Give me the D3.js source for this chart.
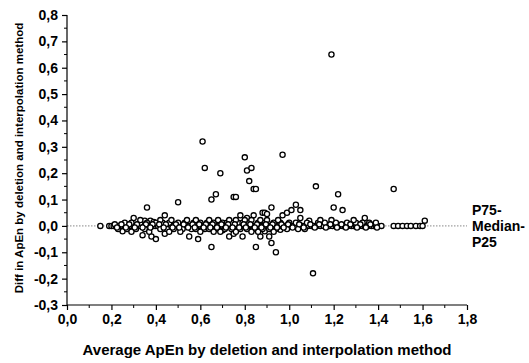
<!DOCTYPE html>
<html><head><meta charset="utf-8">
<script src="https://cdn.jsdelivr.net/npm/d3@7"></script>
<style>body{margin:0;background:#fff}svg{display:block}text{font-family:"Liberation Sans",Arial,sans-serif;font-weight:bold;fill:#000}</style>
</head><body>
<script>
// Outlying / scattered points (average, diff)
const scatterAvg  = [0.15,1.19,0.61,0.62,0.69,0.80,0.81,0.83,0.82,0.84,0.85,0.97,1.12,1.22,1.47,0.50,0.36,0.65,0.67,0.75,0.76,1.20,1.24,0.97,0.99,1.01,1.03,1.05,0.92,0.88,0.89,0.90,0.78,0.81,0.84,0.44,0.30,0.35,0.375,0.39,1.05,1.09,1.34,1.61,1.107,0.25,0.34,0.38,0.40,0.44,0.55,0.59,0.65,0.73,0.75,0.79,0.85,0.87,0.91,0.89,0.92,0.94,0.96,0.70];
const scatterDiff = [0.00,0.65,0.32,0.22,0.20,0.26,0.21,0.22,0.17,0.14,0.14,0.27,0.15,0.12,0.14,0.09,0.07,0.10,0.12,0.11,0.11,0.07,0.06,0.04,0.05,0.06,0.08,0.06,0.07,0.05,0.05,0.045,0.04,0.03,0.04,0.04,0.03,0.02,0.02,0.015,0.03,0.02,0.03,0.02,-0.18,-0.02,-0.035,-0.04,-0.05,-0.03,-0.04,-0.05,-0.08,-0.04,-0.03,-0.04,-0.08,-0.04,-0.04,-0.02,-0.065,-0.10,-0.015,-0.016];
// Dense band around zero
const bandZeroAvg = [0.19,0.20,0.21,0.22,0.235,0.25,0.26,0.27,0.285,0.30,0.31,0.32,0.33,0.345,0.36,0.37,0.38,0.39,0.40,0.41,0.425,0.44,0.455,0.47,0.48,0.495,0.51,0.52,0.535,0.55,0.56,0.57,0.585,0.60,0.61,0.62,0.635,0.65,0.66,0.67,0.685,0.70,0.71,0.72,0.735,0.75,0.76,0.77,0.785,0.80,0.81,0.82,0.835,0.85,0.86,0.87,0.885,0.90,0.91,0.92,0.935,0.95,0.96,0.97,0.985,1.00,1.01,1.02,1.035,1.05,1.06,1.07,1.085,1.10,1.11,1.125,1.14,1.155,1.17,1.18,1.195,1.21,1.225,1.24,1.25,1.265,1.28,1.29,1.30,1.315,1.33,1.34,1.355,1.37,1.38,1.39,1.40,1.415,1.47,1.49,1.51,1.53,1.547,1.57,1.589,1.60];
const bandUpAvg   = [0.26,0.29,0.33,0.36,0.40,0.43,0.46,0.50,0.53,0.57,0.60,0.63,0.66,0.70,0.72,0.74,0.77,0.79,0.82,0.86,0.89,0.93,0.96,1.00,1.03,1.08,1.13,1.16,1.21,1.26,1.30,1.33,1.36,1.39];
const bandDownAvg = [0.23,0.27,0.31,0.35,0.42,0.45,0.48,0.52,0.56,0.58,0.62,0.64,0.68,0.71,0.74,0.78,0.81,0.84,0.88,0.91,0.94,0.99,1.04,1.07];
const bandUp2Avg  = [0.33,0.42,0.47,0.54,0.58,0.64,0.68,0.73,0.76,0.80,0.83,0.87,0.90,0.95,1.14,1.19,1.29];
const bandDown2Avg= [0.29,0.37,0.46,0.51,0.60,0.66,0.69,0.76,0.83,0.86,0.93];
const bandMidUpAvg= [0.215,0.245,0.28,0.315,0.355,0.385,0.415,0.445,0.49,0.525,0.565,0.595,0.625,0.655,0.695,0.725,0.755,0.795,0.825,0.855,0.895,0.925,0.965,0.995,1.045,1.095,1.135,1.185,1.235,1.275,1.32,1.365];
const bandMidDnAvg= [0.225,0.265,0.305,0.34,0.375,0.435,0.475,0.505,0.545,0.575,0.615,0.645,0.675,0.715,0.745,0.775,0.805,0.845,0.875,0.915,0.945,0.975,1.015,1.065,1.115,1.165,1.215,1.255,1.305,1.345,1.395];
const bandLevels  = [0.0, 0.012, -0.012, 0.022, -0.022, 0.006, -0.006];

const xTicks = [0,0.2,0.4,0.6,0.8,1.0,1.2,1.4,1.6,1.8];
const yTicks = [-0.3,-0.2,-0.1,0,0.1,0.2,0.3,0.4,0.5,0.6,0.7,0.8];
const refLabels = ["P75-","Median-","P25"];
const xTitle = "Average ApEn by deletion and interpolation method";
const yTitle = "Diff in ApEn by deletion and interpolation method";

const W=529,H=363;
const svg=d3.select("body").append("svg").attr("width",W).attr("height",H);
const x=d3.scaleLinear().domain([0,1.8]).range([67,467]);
const y=d3.scaleLinear().domain([-0.3,0.8]).range([305,15]);
const fmt=d=>d3.format(".1f")(d).replace(".",",").replace("−","-");

// zero reference line
svg.append("line").attr("x1",x(0)).attr("x2",x(1.8)).attr("y1",y(0)).attr("y2",y(0))
  .attr("stroke","#888").attr("stroke-width",1).attr("stroke-dasharray","1.5,1.5");

// axes
const xMinor=d3.range(1,18,2).map(i=>i/10);
const yMinor=d3.range(-5,16,2).map(i=>i/20);
const gx=svg.append("g").attr("transform",`translate(0,${y(-0.3)})`);
gx.call(d3.axisBottom(x).tickValues(xTicks).tickFormat(fmt).tickSize(5).tickPadding(4));
gx.selectAll(".minor").data(xMinor).join("line").attr("x1",d=>x(d)).attr("x2",d=>x(d)).attr("y1",0).attr("y2",3).attr("stroke","#000");
const gy=svg.append("g").attr("transform",`translate(${x(0)},0)`);
gy.call(d3.axisLeft(y).tickValues(yTicks).tickFormat(fmt).tickSize(5).tickPadding(4));
gy.selectAll(".minor").data(yMinor).join("line").attr("x1",0).attr("x2",-3).attr("y1",d=>y(d)).attr("y2",d=>y(d)).attr("stroke","#000");
svg.selectAll(".domain").attr("stroke","#000").attr("stroke-width",1.2);
svg.selectAll(".tick line").attr("stroke","#000").attr("stroke-width",1.2);
svg.selectAll(".tick text").attr("font-size",14).attr("font-family","Liberation Sans, Arial, sans-serif").attr("font-weight","bold").attr("fill","#000");
gy.selectAll(".domain").attr("d",`M0,${y(-0.3)}V${y(0.8)}`);
gx.selectAll(".domain").attr("d",`M${x(0)},0H${x(1.8)}`);

// points
const pts=[];
scatterAvg.forEach((a,i)=>pts.push([a,scatterDiff[i]]));
[bandZeroAvg,bandUpAvg,bandDownAvg,bandUp2Avg,bandDown2Avg,bandMidUpAvg,bandMidDnAvg].forEach((arr,k)=>arr.forEach(a=>pts.push([a,bandLevels[k]])));
svg.append("g").selectAll("circle").data(pts).join("circle")
  .attr("cx",d=>x(d[0])).attr("cy",d=>y(d[1])).attr("r",2.6)
  .attr("fill","#fff").attr("stroke","#000").attr("stroke-width",1.3);

// right labels
svg.append("g").selectAll("text").data(refLabels).join("text")
  .attr("x",472).attr("y",(d,i)=>215+i*16).attr("font-size",14).text(d=>d);

// titles
svg.append("text").attr("x",267).attr("y",355).attr("text-anchor","middle").attr("font-size",15).text(xTitle);
svg.append("text").attr("transform",`translate(23,158) rotate(-90)`).attr("text-anchor","middle").attr("font-size",11.5).text(yTitle);
</script>
</body></html>
